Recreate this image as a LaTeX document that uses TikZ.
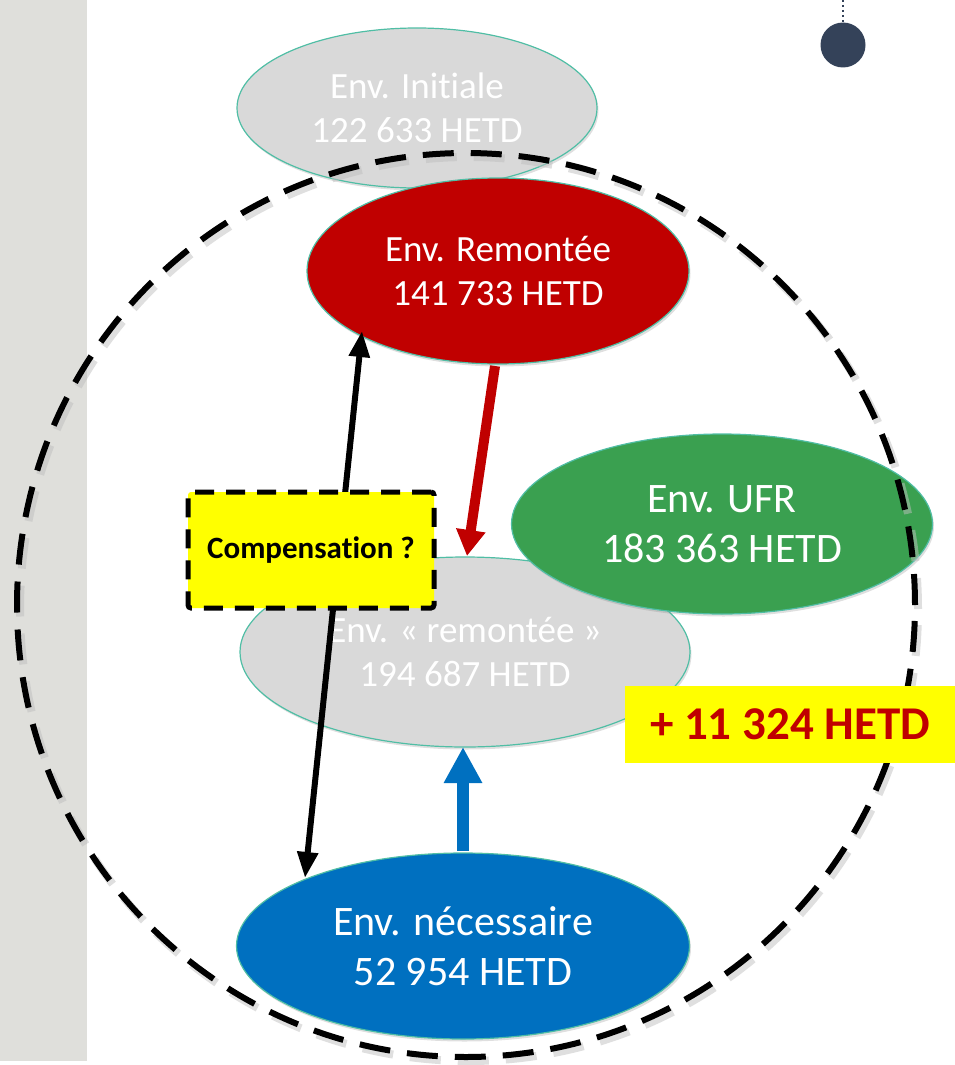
\documentclass[tikz,border=0pt]{standalone}
\usepackage{fontspec}
\setmainfont{Carlito}[Ligatures=NoCommon]
\usetikzlibrary{shapes.geometric,arrows.meta,shadows}
\definecolor{bandgray}{RGB}{223,223,219}
\definecolor{dotblue}{RGB}{52,66,89}
\definecolor{elgray}{RGB}{217,217,217}
\definecolor{elred}{RGB}{192,0,0}
\definecolor{elgreen}{RGB}{58,160,80}
\definecolor{elblue}{RGB}{0,112,192}
\definecolor{teal}{RGB}{80,190,165}
\definecolor{hiyellow}{RGB}{255,255,0}
\tikzset{
  env/.style={ellipse, draw=teal, line width=1.2pt, inner sep=0pt, text=white, align=center,
    font=\fontsize{37}{44}\selectfont, drop shadow={opacity=0.25, shadow xshift=1.5pt, shadow yshift=-2.5pt}},
  bigenv/.style={font=\fontsize{42}{50}\selectfont},
  bigdash/.style={line width=6pt, dash pattern=on 31pt off 17pt},
}
\begin{document}
\begin{tikzpicture}[x=1pt,y=-1pt]
\useasboundingbox (0,0) rectangle (955,1065);
\fill[bandgray] (0,0) rectangle (87,1061);
% dot
\coordinate (dtop) at (843,0);
\node[circle, fill=dotblue, minimum size=45pt, inner sep=0pt] (dot) at (843,45) {};
\draw[dotblue, line width=2pt, dash pattern=on 2.5pt off 2.5pt] (dtop) -- (dot.north);
% ellipses
\node[env, fill=elgray, minimum width=360pt, minimum height=160pt] (ini) at (417,108) {Env. Initiale\\122 633 HETD};
\node[env, fill=elred, minimum width=382pt, minimum height=186pt] (rem) at (498,271) {Env. Remontée\\141 733 HETD};
\node[env, fill=elgray, minimum width=450pt, minimum height=190pt] (rq) at (465,652) {Env. « remontée »\\194 687 HETD};
\node[env, bigenv, fill=elgreen, minimum width=421pt, minimum height=180pt] (ufr) at (722,524) {Env. UFR\\183 363 HETD};
\node[env, bigenv, fill=elblue, minimum width=453pt, minimum height=186pt] (nec) at (463,946) {Env. nécessaire\\52 954 HETD};
% arrows
\coordinate (ra) at (495,366);
\coordinate (rb) at (467,556);
\draw[elred, line width=10pt, -{Triangle[length=26pt,width=28pt]}] (ra) -- (rb);
\coordinate (ba) at (463,851);
\coordinate (bb) at (463,747);
\draw[elblue, line width=12pt, -{Triangle[length=36pt,width=36pt]}] (ba) -- (bb);
\coordinate (ka) at (362,331);
\coordinate (kb) at (305,878);
\draw[black, line width=6pt, {Triangle[length=26pt,width=20pt]}-{Triangle[length=26pt,width=20pt]}] (ka) -- (kb);
% compensation box
\node[draw=black, fill=hiyellow, line width=5pt, dash pattern=on 19pt off 12pt, rounded corners=3pt,
  minimum width=246pt, minimum height=116pt, font=\fontsize{31}{36}\selectfont\bfseries] (comp) at (311,550) {Compensation ?};
% dashed circle with shadow
\draw[black!25, line width=8pt, dash pattern=on 31pt off 17pt, opacity=0.5] (469,609) ellipse [x radius=449pt, y radius=452pt];
\draw[bigdash] (466,605) ellipse [x radius=449pt, y radius=452pt];
% delta box
\node[fill=hiyellow, minimum width=330pt, minimum height=77pt, text=elred, font=\fontsize{47}{54}\selectfont\bfseries] (delta) at (790,724) {+ 11 324 HETD};
\end{tikzpicture}
\end{document}
